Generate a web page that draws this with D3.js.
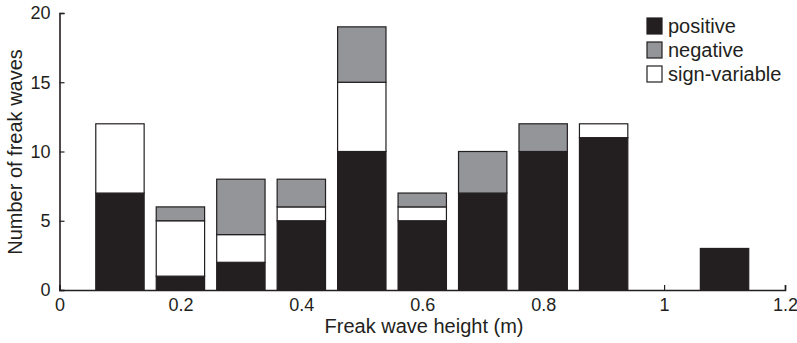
<!DOCTYPE html>
<html>
<head>
<meta charset="utf-8">
<script src="https://cdn.jsdelivr.net/npm/d3@7"></script>
<style>
  html, body { margin: 0; padding: 0; background: #fff; }
  svg text { font-family: "Liberation Sans", Arial, sans-serif; fill: #231f20; }
</style>
</head>
<body>
<svg id="chart" width="797" height="343"></svg>
<script>
// Freak wave counts per height bin, split by sign of the wave
const heights      = [0.1, 0.2, 0.3, 0.4, 0.5, 0.6, 0.7, 0.8, 0.9, 1.0, 1.1];
const positive     = [7, 1, 2, 5, 10, 5, 7, 10, 11, 0, 3];
const signVariable = [5, 4, 2, 1, 5, 1, 0, 0, 1, 0, 0];
const negative     = [0, 1, 4, 2, 4, 1, 3, 2, 0, 0, 0];
const xTicks = [0, 0.2, 0.4, 0.6, 0.8, 1, 1.2];
const yTicks = [0, 5, 10, 15, 20];
const seriesNames = ["positive", "sign-variable", "negative"];
const legendOrder = ["positive", "negative", "sign-variable"];
const colors = { "positive": "#231f20", "negative": "#939598", "sign-variable": "#ffffff" };

const ink = "#231f20";
const svg = d3.select("#chart");
const x = d3.scaleLinear().domain([0, 1.2]).range([59.5, 785]);
const y = d3.scaleLinear().domain([0, 20]).range([290, 13]);
const binWidth = 0.08;

const rows = heights.map((h, i) => ({
  h,
  "positive": positive[i],
  "sign-variable": signVariable[i],
  "negative": negative[i]
}));
const stacked = d3.stack().keys(seriesNames)(rows);

// stacked bars
svg.append("g")
  .selectAll("g")
  .data(stacked)
  .join("g")
  .attr("fill", d => colors[d.key])
  .selectAll("rect")
  .data(d => d.filter(s => s[1] > s[0]))
  .join("rect")
  .attr("x", d => x(d.data.h - binWidth / 2))
  .attr("width", d => x(d.data.h + binWidth / 2) - x(d.data.h - binWidth / 2))
  .attr("y", d => y(d[1]))
  .attr("height", d => y(d[0]) - y(d[1]))
  .attr("stroke", ink)
  .attr("stroke-width", 1.2);

// axes with inward ticks
const xAxis = d3.axisBottom(x).tickValues(xTicks).tickSize(-5).tickPadding(7)
  .tickFormat(d => d3.format("")(d));
const yAxis = d3.axisLeft(y).tickValues(yTicks).tickSize(-5).tickPadding(9);

const gx = svg.append("g").attr("transform", `translate(0,${y(0)})`).call(xAxis);
const gy = svg.append("g").attr("transform", `translate(${x(0)},0)`).call(yAxis);
[gx, gy].forEach(g => {
  g.select(".domain").attr("stroke", ink).attr("stroke-width", 1.6);
  g.selectAll(".tick line").attr("stroke", ink).attr("stroke-width", 1.2);
  g.selectAll(".tick text").attr("font-size", 18).attr("fill", ink)
    .attr("font-family", "Liberation Sans, Arial, sans-serif");
});
gx.selectAll(".tick text").attr("dy", "0.75em");

// axis titles
svg.append("text")
  .attr("x", 424).attr("y", 333)
  .attr("text-anchor", "middle")
  .attr("font-size", 20)
  .text("Freak wave height (m)");
svg.append("text")
  .attr("transform", `translate(22,152) rotate(-90)`)
  .attr("text-anchor", "middle")
  .attr("font-size", 20)
  .text("Number of freak waves");

// legend
const legend = svg.append("g").attr("transform", "translate(647,18)");
const item = legend.selectAll("g")
  .data(legendOrder)
  .join("g")
  .attr("transform", (d, i) => `translate(0,${i * 24})`);
item.append("rect")
  .attr("width", 15).attr("height", 16)
  .attr("fill", d => colors[d])
  .attr("stroke", ink).attr("stroke-width", 1.2);
item.append("text")
  .attr("x", 21).attr("y", 14.5)
  .attr("font-size", 20)
  .text(d => d);
</script>
</body>
</html>
